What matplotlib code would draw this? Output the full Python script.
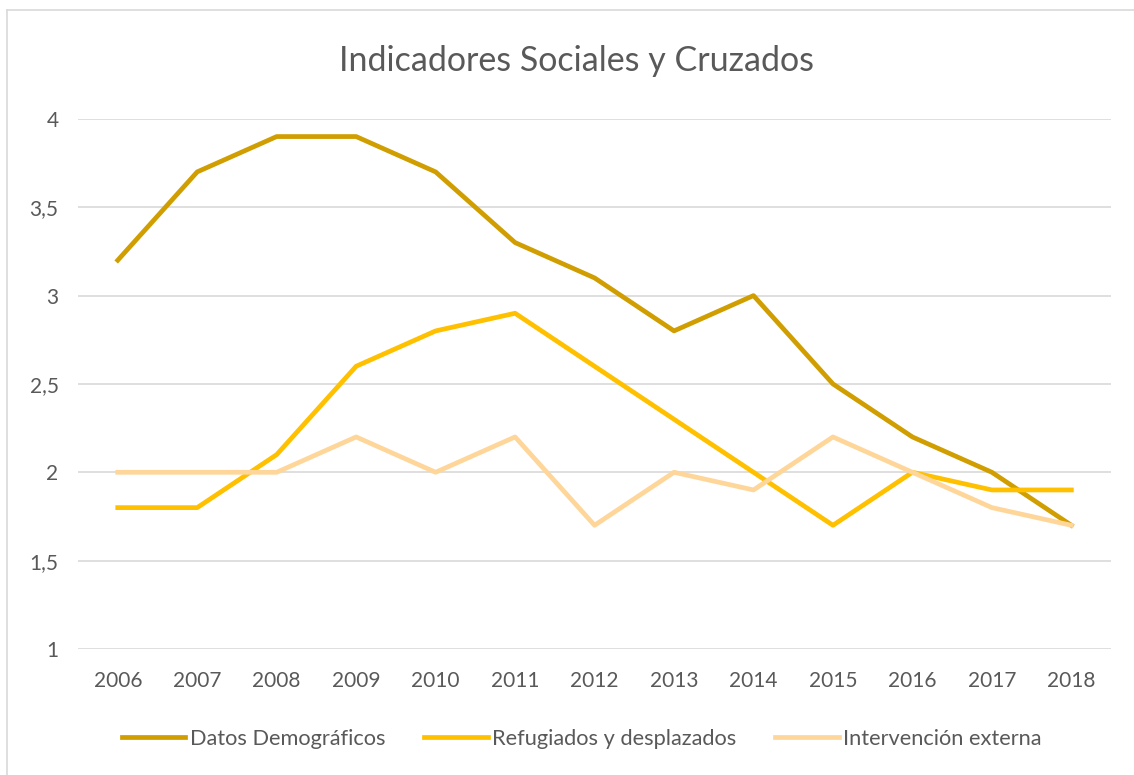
import matplotlib.pyplot as plt
from matplotlib.lines import Line2D

years = ["2006", "2007", "2008", "2009", "2010", "2011", "2012",
         "2013", "2014", "2015", "2016", "2017", "2018"]
demograficos = [3.2, 3.7, 3.9, 3.9, 3.7, 3.3, 3.1, 2.8, 3.0, 2.5, 2.2, 2.0, 1.7]
refugiados = [1.8, 1.8, 2.1, 2.6, 2.8, 2.9, 2.6, 2.3, 2.0, 1.7, 2.0, 1.9, 1.9]
intervencion = [2.0, 2.0, 2.0, 2.2, 2.0, 2.2, 1.7, 2.0, 1.9, 2.2, 2.0, 1.8, 1.7]
y_ticks = [1, 1.5, 2, 2.5, 3, 3.5, 4]
y_labels = ["1", "1,5", "2", "2,5", "3", "3,5", "4"]

plt.rcParams['font.family'] = ['Lato', 'DejaVu Sans']
txt = '#595959'

fig = plt.figure(figsize=(11.34, 7.75), dpi=100)
ax = fig.add_axes([0.0688, 0.1626, 0.911, 0.684])

x = range(len(years))
ax.plot(x, demograficos, color='#D09E00', lw=3.4, label='Datos Demográficos', zorder=3)
ax.plot(x, refugiados, color='#FFC000', lw=3.4, label='Refugiados y desplazados', zorder=3)
ax.plot(x, intervencion, color='#FFD699', lw=3.4, label='Intervención externa', zorder=3)

ax.set_xlim(-0.5, len(years) - 0.5)
ax.set_ylim(1, 4)
ax.set_xticks(list(x))
ax.set_xticklabels(years)
ax.set_yticks(y_ticks)
ax.set_yticklabels(y_labels)
ax.tick_params(length=0, labelsize=15, colors=txt, pad=14)
ax.tick_params(axis='x', pad=16)
ax.grid(axis='y', color='#D9D9D9', lw=1.2)
ax.set_axisbelow(True)
for s in ax.spines.values():
    s.set_visible(False)

fig.text(0.508, 0.921, 'Indicadores Sociales y Cruzados', ha='center', va='center',
         fontsize=24.5, color=txt)

fig.legend(loc='center', bbox_to_anchor=(0.513, 0.047), ncol=3, frameon=False,
           fontsize=15.7, labelcolor=txt, handlelength=2.9, handletextpad=0.2,
           columnspacing=1.8)

# chart border (left and top edges visible)
fig.add_artist(Line2D([0.0062, 0.0062], [0, 0.987], transform=fig.transFigure,
                      color='#D9D9D9', lw=1.2))
fig.add_artist(Line2D([0.0062, 1], [0.987, 0.987], transform=fig.transFigure,
                      color='#D9D9D9', lw=1.2))

fig.savefig('out.png', dpi=100)
